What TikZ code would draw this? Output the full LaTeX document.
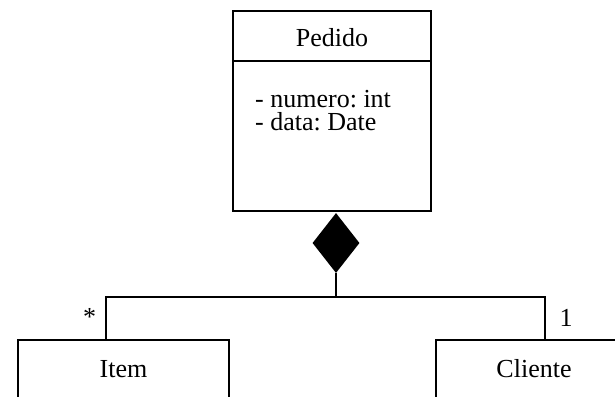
\documentclass[tikz,border=0pt]{standalone}
\usepackage{fontspec}
\setmainfont{Liberation Serif}
\usetikzlibrary{shapes.geometric}
\frenchspacing
\begin{document}
\begin{tikzpicture}[x=1pt,y=-1pt,
  box/.style={draw=black, line width=1.6pt, rectangle, inner sep=0pt},
  conn/.style={draw=black, line width=1.6pt},
  lbl/.style={inner sep=0pt, anchor=base, font=\fontsize{26}{23}\selectfont},
  attr/.style={inner sep=0pt, anchor=base west, text height=17pt, text depth=5pt, font=\fontsize{26}{23}\selectfont},
  comp/.style={diamond, fill=black, draw=none, inner sep=0pt, minimum width=47pt, minimum height=60pt}]
\useasboundingbox (0,0) rectangle (615,396);
\clip (0,0) rectangle (615,396);
% Pedido class
\node[box, minimum width=198pt, minimum height=200pt] (pedido) at (332,111) {};
\coordinate (hdrL) at (233,61);
\coordinate (hdrR) at (431,61);
\draw[conn] (hdrL) -- (hdrR);
\node[lbl] (pedidoname) at (332,46) {Pedido};
\node[attr] (attr1) at (255,107) {- numero: int};
\node[attr] (attr2) at (255,130) {- data: Date};
% composition diamond
\node[comp] (dia) at (336,243) {};
% Item and Cliente classes
\node[box, minimum width=211pt, minimum height=90pt] (item) at (123.5,385) {};
\node[lbl] (itemname) at (123.5,377) {Item};
\node[box, minimum width=211pt, minimum height=90pt] (cliente) at (541.5,385) {};
\node[lbl] (clientename) at (534,377) {Cliente};
% connectors
\coordinate (junction) at (336,297);
\coordinate (itemport) at (106,340);
\coordinate (clienteport) at (545,340);
\draw[conn] (dia.south) -- (junction);
\draw[conn] (itemport) -- (itemport |- junction) -- (clienteport |- junction) -- (clienteport);
% multiplicities
\node[lbl] (multitem) at (89.5,325) {*};
\node[lbl] (multcliente) at (566,326) {1};
\end{tikzpicture}
\end{document}
